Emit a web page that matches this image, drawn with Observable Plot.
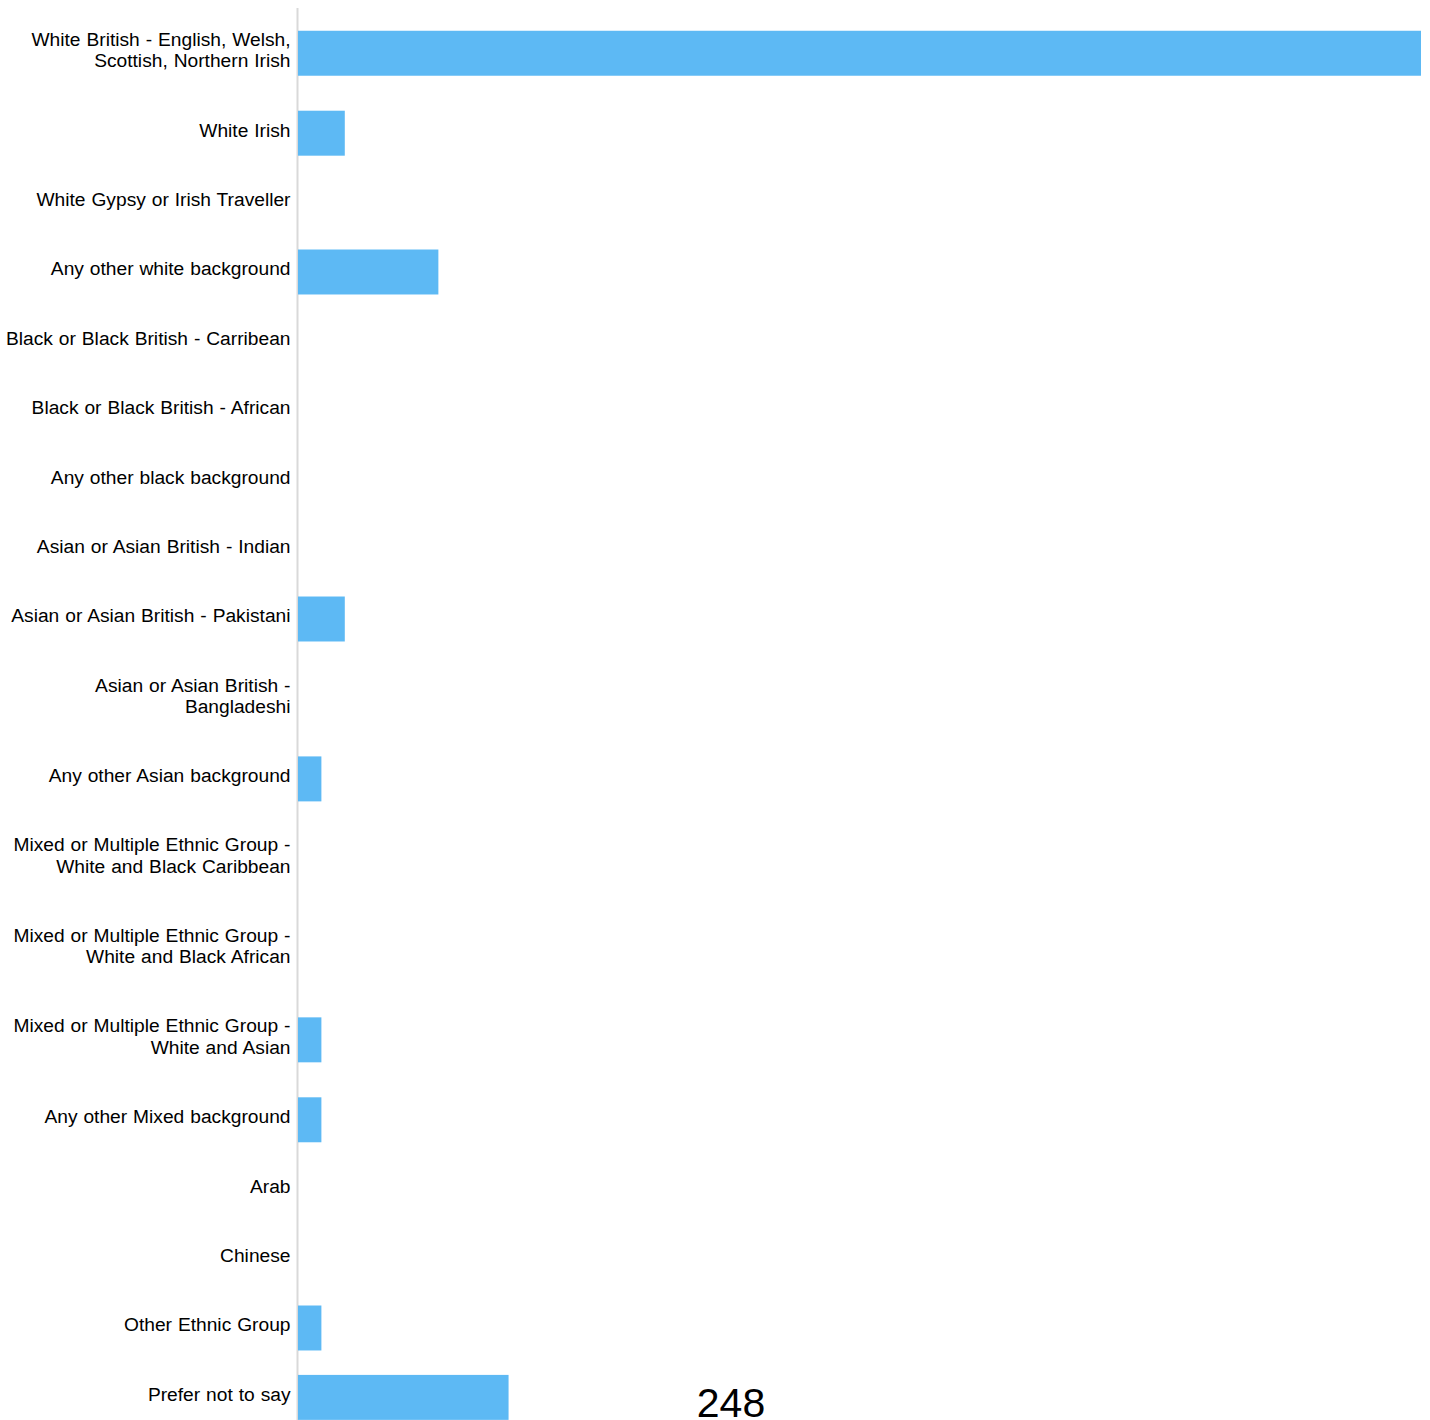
<!DOCTYPE html>
<html>
<head>
<meta charset="utf-8">
<script src="https://cdn.jsdelivr.net/npm/d3@7"></script>
<script src="https://cdn.jsdelivr.net/npm/@observablehq/plot@0.6"></script>
<style>
  html, body { margin: 0; padding: 0; background: #fff; }
  #wrap { position: relative; width: 1430px; height: 1420px; overflow: hidden; }
  #chart svg text { word-spacing: 0.6px; }
  #page { position: absolute; left: 731px; top: 1383px; transform: translateX(-50%);
          font-family: "Liberation Sans", Arial, sans-serif; font-size: 41px; line-height: 1; color: #000; }
</style>
</head>
<body>
<div id="wrap"><div id="chart"></div><div id="page">248</div></div>
<script>
const categories = [
  "White British - English, Welsh,\nScottish, Northern Irish",
  "White Irish",
  "White Gypsy or Irish Traveller",
  "Any other white background",
  "Black or Black British - Carribean",
  "Black or Black British - African",
  "Any other black background",
  "Asian or Asian British - Indian",
  "Asian or Asian British - Pakistani",
  "Asian or Asian British -\nBangladeshi",
  "Any other Asian background",
  "Mixed or Multiple Ethnic Group -\nWhite and Black Caribbean",
  "Mixed or Multiple Ethnic Group -\nWhite and Black African",
  "Mixed or Multiple Ethnic Group -\nWhite and Asian",
  "Any other Mixed background",
  "Arab",
  "Chinese",
  "Other Ethnic Group",
  "Prefer not to say"
];
const counts = [48, 2, 0, 6, 0, 0, 0, 0, 2, 0, 1, 0, 0, 1, 1, 0, 0, 1, 9];

// Row layout: two-line labels get taller rows (as in the reference)
const ONE_LINE = 1, TWO_LINE = 1.304, ROW_PX = 69.4, BAR_HALF = 0.324;
let acc = 0;
const rows = categories.map((label, i) => {
  const h = label.includes("\n") ? TWO_LINE : ONE_LINE;
  const center = acc + h / 2;
  acc += h;
  return {label, value: counts[i], center};
});

const chart = Plot.plot({
  width: 1430,
  height: 1420,
  marginLeft: 298,
  marginRight: 9,
  marginTop: 8,
  marginBottom: 0,
  x: {domain: [0, 48], axis: null},
  y: {domain: [0, acc], range: [8, 8 + acc * ROW_PX], axis: null},
  style: {fontFamily: "'Liberation Sans', Arial, sans-serif", background: "#fff", color: "#000"},
  marks: [
    Plot.ruleX([0], {stroke: "#d9d9d9", strokeWidth: 2, dx: -1}),
    Plot.rectX(rows.filter(d => d.value > 0), {
      x1: 0, x2: "value",
      y1: d => d.center - BAR_HALF, y2: d => d.center + BAR_HALF,
      fill: "#5db9f4"
    }),
    Plot.text(rows, {
      x: 0, y: "center", text: "label",
      textAnchor: "end", dx: -8, dy: -4,
      fontSize: 19.2, lineHeight: 1.12, fill: "#000"
    })
  ]
});
document.getElementById("chart").appendChild(chart);
</script>
</body>
</html>
